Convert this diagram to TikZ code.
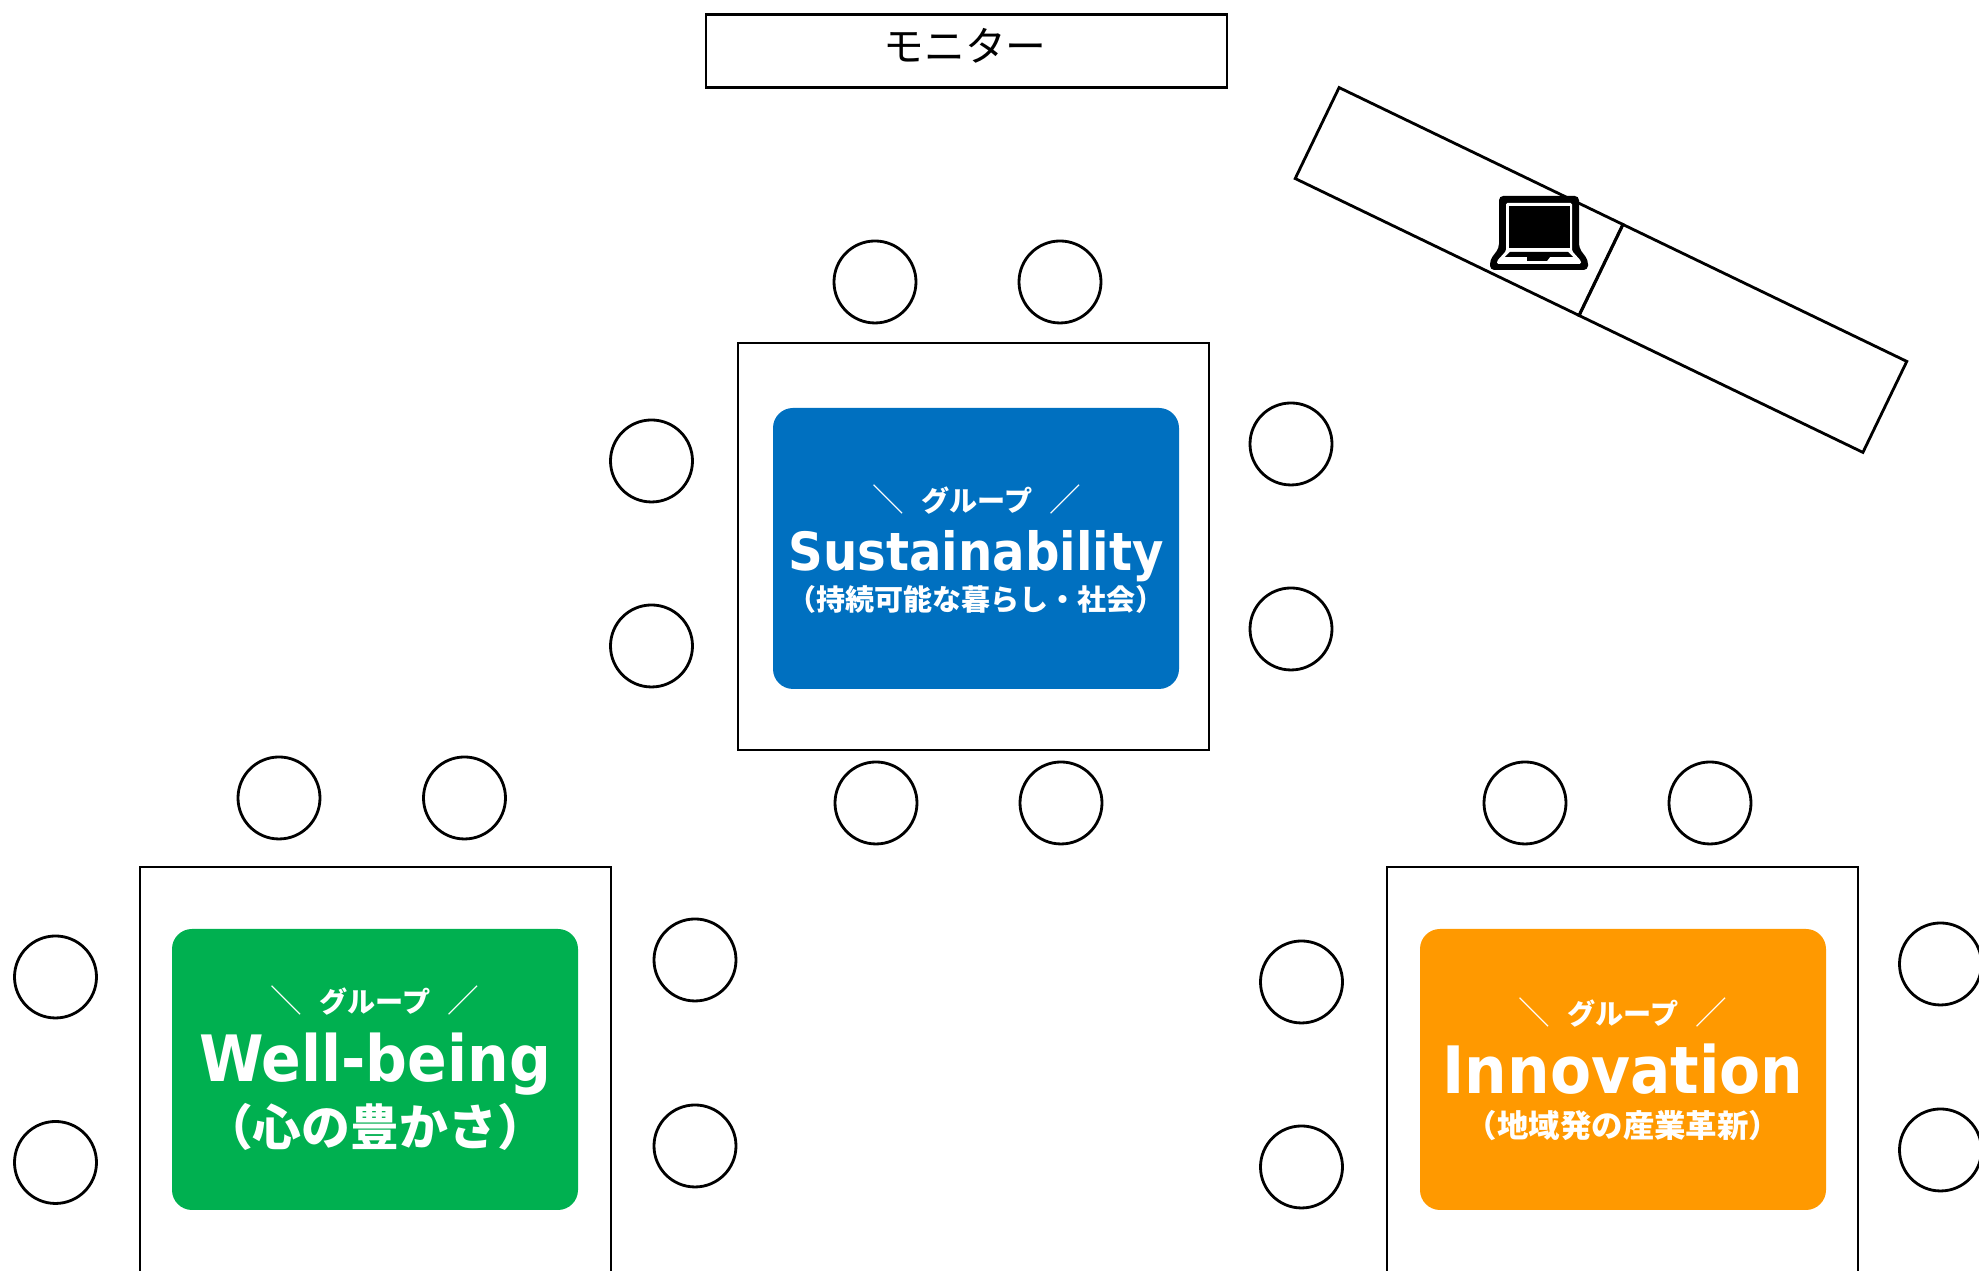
\documentclass[tikz,border=0pt]{standalone}
\usepackage{fontspec}
\setmainfont[FakeStretch=0.915]{DejaVu Sans}
\newfontfamily\jpfont{Noto Sans CJK JP}
\definecolor{blueCard}{HTML}{0070C0}
\definecolor{greenCard}{HTML}{00B050}
\definecolor{orangeCard}{HTML}{FF9900}
\newcommand{\groupLine}{{\jpfont\fontsize{8}{8}\selectfont {\fontsize{9}{9}\selectfont ＼}\hspace{0.62em}\textbf{グループ}\hspace{0.62em}{\fontsize{9}{9}\selectfont ／}}}
\tikzset{
  desk/.style={draw, line width=0.8pt, inner sep=0pt, minimum width=4.71cm, minimum height=4.07cm},
  chair/.style={draw, circle, line width=0.8pt, inner sep=0pt, minimum size=0.82cm},
  card/.style={rounded corners=0.2cm, inner sep=0pt, minimum width=4.06cm, minimum height=2.81cm},
  cardtext/.style={text=white, inner sep=0pt},
  bigname/.style={cardtext, anchor=base, font=\bfseries},
}
\begin{document}
\begin{tikzpicture}
\path[use as bounding box, clip] (0,0) rectangle (19.79,12.71);
\node[draw, line width=0.8pt, inner sep=0pt, minimum width=5.21cm, minimum height=0.73cm] (monitor) at (9.665,12.2) {};
\node[inner sep=0pt] (monitorText) at (9.65,12.255) {\jpfont\fontsize{11.6}{11.6}\selectfont モニター};
%
\node[draw, line width=0.8pt, rotate=-25.75, inner sep=0pt, minimum width=3.15cm, minimum height=1.01cm] (pcDesk) at (14.59,10.695) {};
\node[draw, line width=0.8pt, rotate=-25.75, inner sep=0pt, minimum width=3.15cm, minimum height=1.01cm] (sideDesk) at (17.43,9.325) {};
%
% laptop
\fill[black, rounded corners=1.2pt] (14.99,10.75) -- (15.79,10.75) -- (15.79,10.23) -- (15.88,10.11) -- (15.88,10.01) -- (14.90,10.01) -- (14.90,10.11) -- (14.99,10.23) -- cycle;
\fill[white, rounded corners=0.4pt] (15.06,10.68) -- (15.72,10.68) -- (15.72,10.20) -- (15.81,10.10) -- (15.81,10.07) -- (14.97,10.07) -- (14.97,10.10) -- (15.06,10.20) -- cycle;
\fill[black] (15.085,10.65) rectangle (15.695,10.23);
\fill[black] (15.10,10.19) -- (15.68,10.19) -- (15.73,10.14) -- (15.50,10.14) -- (15.47,10.10) -- (15.27,10.10) -- (15.27,10.14) -- (15.05,10.14) -- cycle;
%
\node[desk] (deskS) at (9.735,7.245) {};
\node[desk] (deskW) at (3.755,2.005) {};
\node[desk] (deskI) at (16.225,2.005) {};
%
\node[chair] (s1) at (8.75,9.89) {};
\node[chair] (s2) at (10.60,9.89) {};
\node[chair] (s3) at (6.515,8.10) {};
\node[chair] (s4) at (6.515,6.25) {};
\node[chair] (s5) at (12.91,8.27) {};
\node[chair] (s6) at (12.91,6.42) {};
\node[chair] (s7) at (8.76,4.68) {};
\node[chair] (s8) at (10.61,4.68) {};
%
\node[chair] (w1) at (2.79,4.73) {};
\node[chair] (w2) at (4.645,4.73) {};
\node[chair] (w3) at (0.555,2.94) {};
\node[chair] (w4) at (0.555,1.085) {};
\node[chair] (w5) at (6.95,3.11) {};
\node[chair] (w6) at (6.95,1.25) {};
%
\node[chair] (i1) at (15.25,4.68) {};
\node[chair] (i2) at (17.10,4.68) {};
\node[chair] (i3) at (13.015,2.89) {};
\node[chair] (i4) at (13.015,1.04) {};
\node[chair] (i5) at (19.405,3.07) {};
\node[chair] (i6) at (19.405,1.21) {};
%
\node[card, fill=blueCard] (cardS) at (9.76,7.225) {};
\node[cardtext] (groupS) at (9.77,7.715) {\groupLine};
\node[bigname, font=\bfseries\fontsize{15}{15}\selectfont] (nameS) at (9.76,7.00) {Sustainability};
\node[cardtext] (subS) at (9.76,6.71) {\jpfont\bfseries\fontsize{8.25}{8.25}\selectfont （持続可能な暮らし・社会）};
%
\node[card, fill=greenCard] (cardW) at (3.75,2.015) {};
\node[cardtext] (groupW) at (3.75,2.70) {\groupLine};
\node[bigname, font=\bfseries\fontsize{18.2}{18.2}\selectfont] (nameW) at (3.75,1.89) {Well-being};
\node[cardtext] (subW) at (3.75,1.44) {\jpfont\bfseries\fontsize{13.9}{13.9}\selectfont （心の豊かさ）};
%
\node[card, fill=orangeCard] (cardI) at (16.23,2.015) {};
\node[cardtext] (groupI) at (16.23,2.58) {\groupLine};
\node[bigname, font=\bfseries\fontsize{18.6}{18.6}\selectfont] (nameI) at (16.23,1.77) {Innovation};
\node[cardtext] (subI) at (16.23,1.45) {\jpfont\bfseries\fontsize{8.95}{8.95}\selectfont （地域発の産業革新）};
\end{tikzpicture}
\end{document}
